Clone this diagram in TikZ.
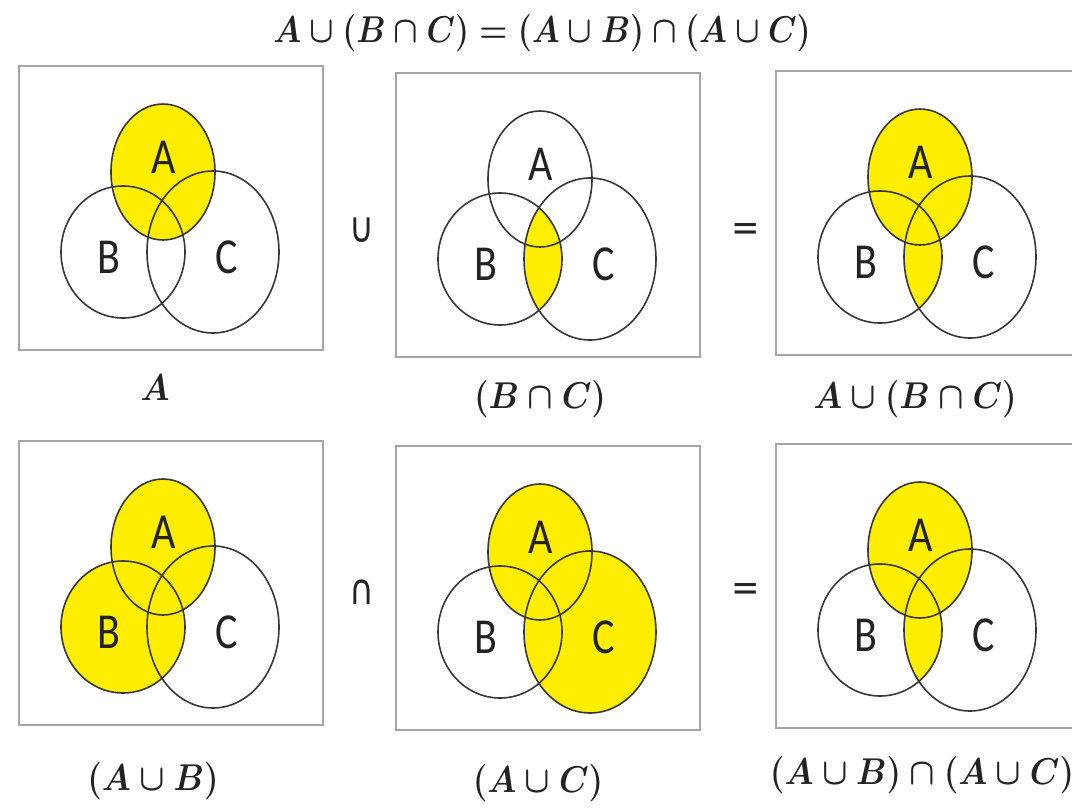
\documentclass[tikz,border=0pt]{standalone}
\usepackage[no-math]{fontspec}
\usepackage{amsmath}
\usepackage{graphicx}
\newfontfamily\lettersf{Carlito}
\newfontfamily\opsf{DejaVu Sans}

\definecolor{hlyellow}{RGB}{255,238,0}
\definecolor{ringgray}{RGB}{55,55,55}
\definecolor{boxgray}{RGB}{165,165,165}
\definecolor{ink}{RGB}{35,35,35}

% the three sets, in coordinates relative to the top-left corner of a panel
\def\pA{(145,107) ellipse [x radius=52, y radius=68]}
\def\pB{(105,187) ellipse [x radius=62, y radius=66]}
\def\pC{(195,187) ellipse [x radius=66, y radius=81]}

\newcommand\tall[2][1.2]{\scalebox{1}[#1]{#2}}
% set formulas: bold math, stretched to a tall, narrow look
\newcommand\fml[2][1.34]{\scalebox{#1}[1.5]{$#2$}}

\tikzset{
  hl/.style={fill=hlyellow},
  ring/.style={draw=ringgray, line width=1.6pt},
  panelbox/.style={draw=boxgray, line width=2pt, rectangle, anchor=north west,
    minimum width=304pt, minimum height=284pt, inner sep=0pt},
  setname/.style={font=\lettersf\fontsize{42}{42}\selectfont, text=ink, inner sep=0pt},
  formula/.style={font=\fontsize{24}{28}\selectfont\boldmath, text=ink, inner sep=0pt},
  oper/.style={font=\opsf\fontsize{34}{34}\selectfont, text=ink, inner sep=0pt},
}

% one Venn panel: #1 name, #2 x, #3 y, #4 shading drawn beneath the outlines
\newcommand\vpanel[4]{%
  \begin{scope}[shift={(#2,#3)}]
    \node[panelbox] (#1box) at (0,0) {};
    #4
    \draw[ring] \pA;
    \draw[ring] \pB;
    \draw[ring] \pC;
    \node[setname] (#1A) at (146,92) {\tall{A}};
    \node[setname] (#1B) at (91,192) {\tall{B}};
    \node[setname] (#1C) at (209,192) {\tall{C}};
  \end{scope}}

\newcommand\fillBC{\begin{scope}\clip \pB; \fill[hl] \pC; \end{scope}}

\begin{document}
\begin{tikzpicture}[x=1pt, y=-1pt]
  \useasboundingbox (0,0) rectangle (1072,809);
  \clip (0,0) rectangle (1072,809);
  \fill[white] (0,0) rectangle (1072,809);

  % heading
  \node[formula] (title) at (542,33) {\fml[1.29]{A\cup(B\cap C)=(A\cup B)\cap(A\cup C)}};

  % top row: A  union  (B n C)  =  A u (B n C)
  \vpanel{a}{18}{65}{\fill[hl] \pA;}
  \vpanel{bc}{395}{72}{\fillBC}
  \vpanel{lhs}{775}{70}{\fill[hl] \pA; \fillBC}

  % bottom row: (A u B)  intersect  (A u C)  =  (A u B) n (A u C)
  \vpanel{ab}{18}{440}{\fill[hl] \pA; \fill[hl] \pB;}
  \vpanel{ac}{395}{445}{\fill[hl] \pA; \fill[hl] \pC;}
  \vpanel{rhs}{775}{443}{\fill[hl] \pA; \fillBC}

  % operators between the panels
  \node[oper] (op1) at (362,230) {\tall[1.25]{∪}};
  \node[oper] (op2) at (746,232) {\tall[1.1]{=}};
  \node[oper] (op3) at (362,592) {\tall[1.25]{∩}};
  \node[oper] (op4) at (746,592) {\tall[1.1]{=}};

  % captions
  \node[formula] (capa)   at (155,388) {\fml{A}};
  \node[formula] (capbc)  at (540,399) {\fml{(B\cap C)}};
  \node[formula] (caplhs) at (915,399) {\fml{A\cup(B\cap C)}};
  \node[formula] (capab)  at (153,781) {\fml{(A\cup B)}};
  \node[formula] (capac)  at (538,783) {\fml{(A\cup C)}};
  \node[formula] (caprhs) at (922,775) {\fml{(A\cup B)\cap(A\cup C)}};
\end{tikzpicture}
\end{document}
